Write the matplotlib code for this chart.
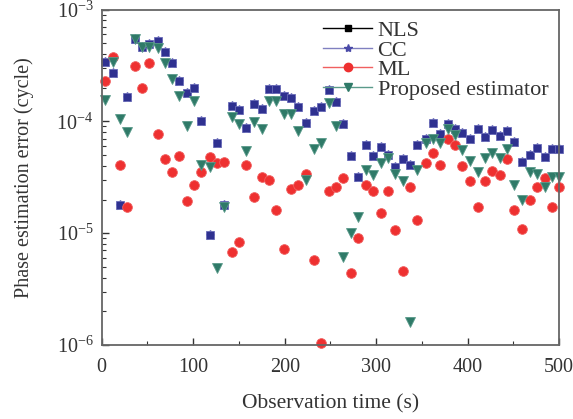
import matplotlib
matplotlib.use('Agg')
import matplotlib.pyplot as plt
from matplotlib.lines import Line2D
from matplotlib.ticker import LogLocator, MultipleLocator

plt.rcParams['font.family'] = ['Liberation Serif', 'DejaVu Serif']
plt.rcParams['mathtext.fontset'] = 'custom'
plt.rcParams['mathtext.rm'] = 'Liberation Serif'

# observation times (s)
t = [4, 12, 20, 28, 36, 44, 52, 61, 69, 77, 85, 93, 101, 109, 118, 126,
     134, 142, 150, 158, 166, 175, 183, 191, 199, 207, 215, 223, 232, 240,
     248, 256, 264, 272, 280, 289, 297, 305, 313, 321, 329, 337, 345, 354,
     362, 370, 378, 386, 394, 402, 411, 419, 427, 435, 443, 451, 459, 468,
     476, 484, 492, 500]

nls = [3.4e-4, 2.7e-4, 1.8e-5, 1.66e-4, 5.4e-4, 4.6e-4, 4.9e-4, 5.2e-4,
       4.2e-4, 3.3e-4, 2.3e-4, 1.8e-4, 2.0e-4, 1.0e-4, 9.6e-6, 6.4e-5,
       1.8e-5, 1.36e-4, 1.26e-4, 8.8e-5, 1.43e-4, 1.28e-4, 1.93e-4, 1.93e-4,
       1.68e-4, 1.61e-4, 1.35e-4, 9.6e-5, 1.24e-4, 1.35e-4, 1.9e-4, 1.48e-4,
       9.5e-5, 4.9e-5, 3.2e-5, 6.1e-5, 4.9e-5, 5.9e-5, 5.0e-5, 3.9e-5,
       4.6e-5, 4.1e-5, 6.1e-5, 7.0e-5, 9.6e-5, 7.7e-5, 9.5e-5, 8.6e-5,
       7.8e-5, 6.9e-5, 8.6e-5, 7.3e-5, 8.4e-5, 7.4e-5, 8.2e-5, 6.6e-5,
       4.3e-5, 5.0e-5, 5.8e-5, 4.8e-5, 5.7e-5, 5.7e-5]

# CC lies under the NLS markers
cc = list(nls)

ml = [2.3e-4, 3.8e-4, 4.1e-5, 1.7e-5, 3.1e-4, 2.0e-4, 3.3e-4, 7.7e-5,
      4.6e-5, 3.5e-5, 4.9e-5, 1.95e-5, 2.7e-5, 3.5e-5, 4.8e-5, 4.2e-5,
      4.3e-5, 6.8e-6, 8.4e-6, 4.1e-5, 2.1e-5, 3.2e-5, 3.0e-5, 1.6e-5,
      7.2e-6, 2.5e-5, 2.7e-5, 3.4e-5, 5.7e-6, 1.05e-6, 2.4e-5, 2.6e-5,
      3.1e-5, 4.4e-6, 9.0e-6, 2.7e-5, 2.4e-5, 1.5e-5, 2.4e-5, 1.07e-5,
      4.6e-6, 2.6e-5, 1.3e-5, 4.2e-5, 5.2e-5, 4.1e-5, 7.0e-5, 6.1e-5,
      4.0e-5, 2.9e-5, 1.7e-5, 2.9e-5, 3.6e-5, 3.3e-5, 4.6e-5, 1.6e-5,
      1.08e-5, 2.0e-5, 2.6e-5, 3.1e-5, 1.7e-5, 2.6e-5]

proposed = [1.55e-4, 3.4e-4, 1.06e-4, 8.0e-5, 5.4e-4, 4.6e-4, 4.6e-4, 4.5e-4,
            3.3e-4, 2.4e-4, 1.7e-4, 9.0e-5, 1.53e-4, 4.1e-5, 3.9e-5, 4.9e-6,
            1.7e-5, 1.09e-4, 9.5e-5, 5.4e-5, 9.9e-5, 8.5e-5, 1.53e-4, 1.53e-4,
            1.16e-4, 1.16e-4, 8.2e-5, 3.0e-5, 5.7e-5, 6.4e-5, 1.45e-4, 9.1e-5,
            6.1e-6, 1.0e-5, 1.4e-5, 3.7e-5, 3.3e-5, 4.2e-5, 4.7e-5, 3.4e-5,
            2.9e-5, 1.6e-6, 3.7e-5, 6.4e-5, 6.9e-5, 6.4e-5, 8.6e-5, 7.5e-5,
            5.5e-5, 4.4e-5, 3.5e-5, 4.7e-5, 5.2e-5, 4.7e-5, 5.7e-5, 2.7e-5,
            2.0e-5, 3.5e-5, 3.4e-5, 2.6e-5, 3.2e-5, 3.2e-5]

fig = plt.figure(figsize=(5.73, 4.19), dpi=100)
ax = fig.add_axes([0.1775, 0.1766, 0.7985, 0.8007])

ax.plot(t, cc, ls='none', marker='*', ms=6.5, color='#4a4aa8', clip_on=False)
ax.plot(t, nls, ls='none', marker='s', ms=6, color='#2f3190', mec='#6a6cb8',
        mew=0.6, clip_on=False)
ax.plot(t, ml, ls='none', marker='o', ms=7, color='#ee3030', mec='#f06060',
        mew=0.6, clip_on=False)
ax.plot(t, proposed, ls='none', marker='v', ms=7.5, color='#2f7a68',
        mec='#5a9a8a', mew=0.6, clip_on=False)

ax.set_yscale('log')
ax.set_xlim(0, 500)
ax.set_ylim(1e-6, 1e-3)
ax.xaxis.set_major_locator(MultipleLocator(100))
ax.xaxis.set_minor_locator(MultipleLocator(50))
ax.yaxis.set_minor_locator(LogLocator(base=10, subs=range(2, 10)))
ax.tick_params(which='both', direction='in', top=False, right=False,
               labelsize=14.5, colors='#333333')
ax.tick_params(axis='x', pad=9)
ax.tick_params(axis='y', pad=6)
ax.tick_params(which='major', length=5, width=1)
ax.tick_params(which='minor', length=3, width=0.8)
for s in ax.spines.values():
    s.set_color('#666666')
    s.set_linewidth(1.3)

ax.set_xlabel('Observation time (s)', fontsize=15.5, color='#333333', labelpad=13)
ax.set_ylabel('Phase estimation error (cycle)', fontsize=14.5, color='#333333',
              labelpad=16)

handles = [
    Line2D([], [], color='black', marker='s', ms=4, lw=1),
    Line2D([], [], color='#8080c0', marker='*', mfc='#4a4aa8', mec='#4a4aa8', ms=6, lw=1),
    Line2D([], [], color='#f06060', marker='o', mfc='#ee3030', mec='#ee3030', ms=6, lw=1),
    Line2D([], [], color='#5a9a8a', marker='v', mfc='#2f7a68', mec='#2f7a68', ms=6, lw=1),
]
ax.legend(handles, ['NLS', 'CC', 'ML', 'Proposed estimator'], loc='upper right',
          frameon=False, fontsize=16, handlelength=2.2, handletextpad=0.25,
          labelspacing=-0.05, borderaxespad=0.1, labelcolor='#333333')

fig.savefig('out.png', dpi=100)
